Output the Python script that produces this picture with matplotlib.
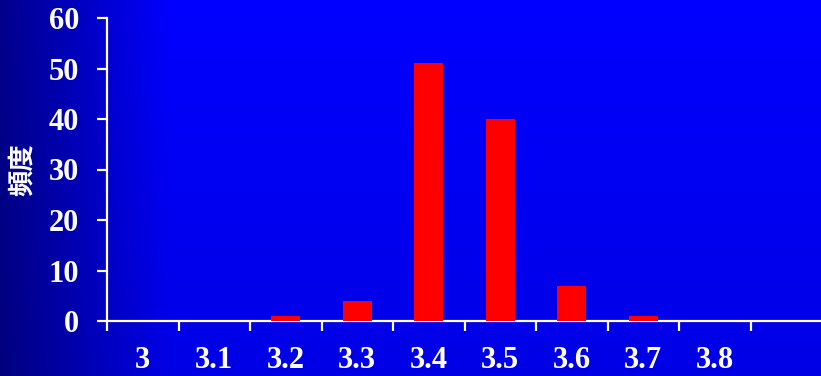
import numpy as np
import matplotlib
matplotlib.use("Agg")
import matplotlib.pyplot as plt

# Frequency of measured values per class
categories = ["3", "3.1", "3.2", "3.3", "3.4", "3.5", "3.6", "3.7", "3.8", ""]
counts = [0, 0, 1, 4, 51, 40, 7, 1, 0, 0]
y_ticks = [0, 10, 20, 30, 40, 50, 60]

W, H, DPI = 821, 376, 100
fig = plt.figure(figsize=(W / DPI, H / DPI), dpi=DPI)

# Blue background: darker toward the left edge, slightly darker toward the bottom
bg = fig.add_axes([0, 0, 1, 1], zorder=-10)
xs = np.linspace(0, 1, W)
ys = np.linspace(0, 1, H)
horiz = np.clip(0.55 + 0.45 * (xs * W / 170.0), 0, 1)
vert = 1.0 - 0.10 * ys
blue = np.outer(vert, horiz)
img = np.zeros((H, W, 3))
img[..., 2] = blue
bg.imshow(img, aspect="auto", extent=[0, 1, 0, 1], origin="upper")
bg.set_axis_off()

left_px, right_px = 107, 822
bottom_px, top_px = 321, 18
ax = fig.add_axes([left_px / W, 1 - bottom_px / H,
                   (right_px - left_px) / W, (bottom_px - top_px) / H])
ax.patch.set_alpha(0)

x = np.arange(len(categories))
ax.bar(x, counts, width=0.4, color="#ff0000", zorder=3)

ax.set_xlim(-0.5, len(categories) - 0.5)
ax.set_ylim(0, 60)

for s in ["top", "right"]:
    ax.spines[s].set_visible(False)
for s in ["left", "bottom"]:
    ax.spines[s].set_color("white")
    ax.spines[s].set_linewidth(1.6)

serif = {"family": "Liberation Serif", "weight": "bold", "size": 22}

ax.set_yticks(y_ticks)
ax.set_yticklabels([str(v) for v in y_ticks], fontdict=serif, color="white")
ax.tick_params(axis="y", direction="out", length=7, width=1.6, color="white", pad=13)

# Tick marks at class boundaries, labels centred on each class
ax.set_xticks(np.arange(len(categories)) - 0.5)
ax.set_xticklabels([])
ax.tick_params(axis="x", which="major", direction="out", length=7, width=1.6, color="white")
ax.set_xticks(x, minor=True)
ax.set_xticklabels(categories, minor=True, fontdict=serif, color="white")
ax.tick_params(axis="x", which="minor", length=0, pad=18)

fig.text(22 / W, 1 - 170 / H, "頻度", rotation=90, color="white",
         family=["Noto Sans CJK JP", "DejaVu Sans"], weight="bold", size=19,
         ha="center", va="center")

fig.savefig("out.png", dpi=DPI)
